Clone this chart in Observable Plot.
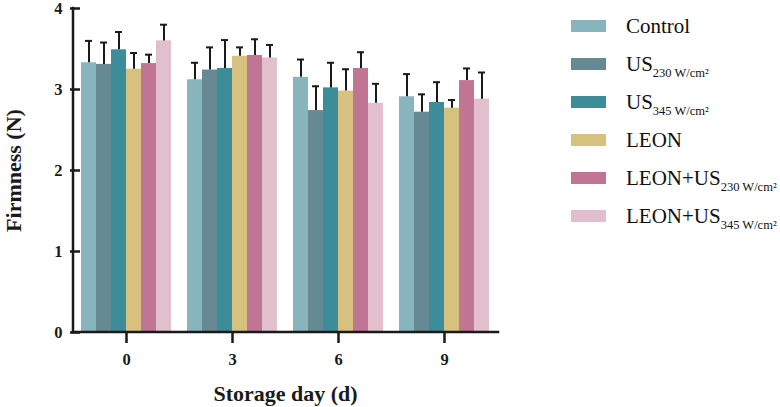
<!DOCTYPE html>
<html><head><meta charset="utf-8">
<script src="https://cdn.jsdelivr.net/npm/d3@7"></script>
<script src="https://cdn.jsdelivr.net/npm/@observablehq/plot@0.6"></script>
<style>
body{margin:0;background:#fff;}
#wrap{position:relative;width:780px;height:407px;font-family:"Liberation Serif","Times New Roman",serif;}
#legend{position:absolute;left:571px;top:7px;}
.row{display:flex;align-items:center;height:38px;}
.sw{width:35px;height:12px;margin-right:20px;flex:none;}
.lab{font-size:21px;line-height:1;color:#111;white-space:nowrap;}
.lab sub{font-size:12.5px;vertical-align:baseline;position:relative;top:6px;}
[aria-label="y-axis label"], [aria-label="fx-axis label"]{font-size:22px;}
</style>
</head><body>
<div id="wrap"><div id="chart"></div><div id="legend"></div></div>
<script>
const days = [0, 3, 6, 9];
const treatments = ["Control", "US230", "US345", "LEON", "LEON+US230", "LEON+US345"];
const legendMain = ["Control", "US", "US", "LEON", "LEON+US", "LEON+US"];
const legendSub = ["", "230 W/cm²", "345 W/cm²", "", "230 W/cm²", "345 W/cm²"];
const colors = ["#87b4bd", "#658a93", "#3d8c99", "#d6c17f", "#c07595", "#e2bfcc"];

const control = [3.33, 3.12, 3.15, 2.91];
const us230 = [3.31, 3.24, 2.74, 2.72];
const us345 = [3.49, 3.26, 3.02, 2.84];
const leon = [3.25, 3.41, 2.98, 2.77];
const leonUs230 = [3.32, 3.42, 3.26, 3.11];
const leonUs345 = [3.60, 3.39, 2.83, 2.88];

const controlSd = [0.27, 0.21, 0.22, 0.28];
const us230Sd = [0.27, 0.28, 0.30, 0.22];
const us345Sd = [0.22, 0.35, 0.31, 0.25];
const leonSd = [0.20, 0.11, 0.27, 0.10];
const leonUs230Sd = [0.11, 0.20, 0.20, 0.15];
const leonUs345Sd = [0.20, 0.16, 0.24, 0.33];

const yTicks = [0, 1, 2, 3, 4];

const means = [control, us230, us345, leon, leonUs230, leonUs345];
const sds = [controlSd, us230Sd, us345Sd, leonSd, leonUs230Sd, leonUs345Sd];
const rows = [];
days.forEach((d, di) => treatments.forEach((t, ti) => {
  rows.push({day: d, treatment: t, mean: means[ti][di], upper: means[ti][di] + sds[ti][di]});
}));

const W = 780, H = 407, mL = 73, mR = 282, mT = 8, mB = 75;
const ink = "#1a1a1a";

const plot = Plot.plot({
  width: W, height: H,
  marginLeft: mL, marginRight: mR, marginTop: mT, marginBottom: mB,
  style: {fontFamily: '"Liberation Serif","Times New Roman",serif', fontSize: "16.5px", fontWeight: "bold", color: ink, background: "#fff", overflow: "visible"},
  fx: {domain: days, paddingInner: 0.13, paddingOuter: 0.06},
  x: {domain: treatments, padding: 0, axis: null},
  y: {domain: [0, 4]},
  color: {domain: treatments, range: colors},
  marks: [
    Plot.barY(rows, {fx: "day", x: "treatment", y: "mean", fill: "treatment"}),
    Plot.ruleX(rows, {fx: "day", x: "treatment", y1: "mean", y2: "upper", stroke: ink, strokeWidth: 2}),
    Plot.tickY(rows, {fx: "day", x: "treatment", y: "upper", stroke: ink, strokeWidth: 2, inset: 4}),
    Plot.axisY({ticks: yTicks, tickSize: 10, tickPadding: 8, strokeWidth: 2.5, tickFormat: d => String(d),
      label: "Firmness (N)", labelArrow: "none", labelAnchor: "center", labelOffset: 75}),
    Plot.axisFx({anchor: "bottom", tickSize: 11, tickPadding: 10, strokeWidth: 2.5,
      label: "Storage day (d)", labelArrow: "none", labelAnchor: "center", labelOffset: 68})
  ]
});
document.getElementById("chart").appendChild(plot);

// axis lines, positioned through the y scale
const ys = plot.scale("y");
const svg = d3.select(plot);
svg.append("line").attr("x1", mL).attr("x2", mL).attr("y1", ys.apply(4)).attr("y2", ys.apply(0))
  .attr("stroke", ink).attr("stroke-width", 2.5).attr("stroke-linecap", "square");
svg.append("line").attr("x1", mL).attr("x2", W - mR).attr("y1", ys.apply(0)).attr("y2", ys.apply(0))
  .attr("stroke", ink).attr("stroke-width", 2.5).attr("stroke-linecap", "square");

// legend
const legend = d3.select("#legend");
treatments.forEach((t, i) => {
  const r = legend.append("div").attr("class", "row");
  r.append("div").attr("class", "sw").style("background", colors[i]);
  const lab = r.append("div").attr("class", "lab");
  lab.append("span").text(legendMain[i]);
  if (legendSub[i]) lab.append("sub").text(legendSub[i]);
});
</script>
</body></html>
